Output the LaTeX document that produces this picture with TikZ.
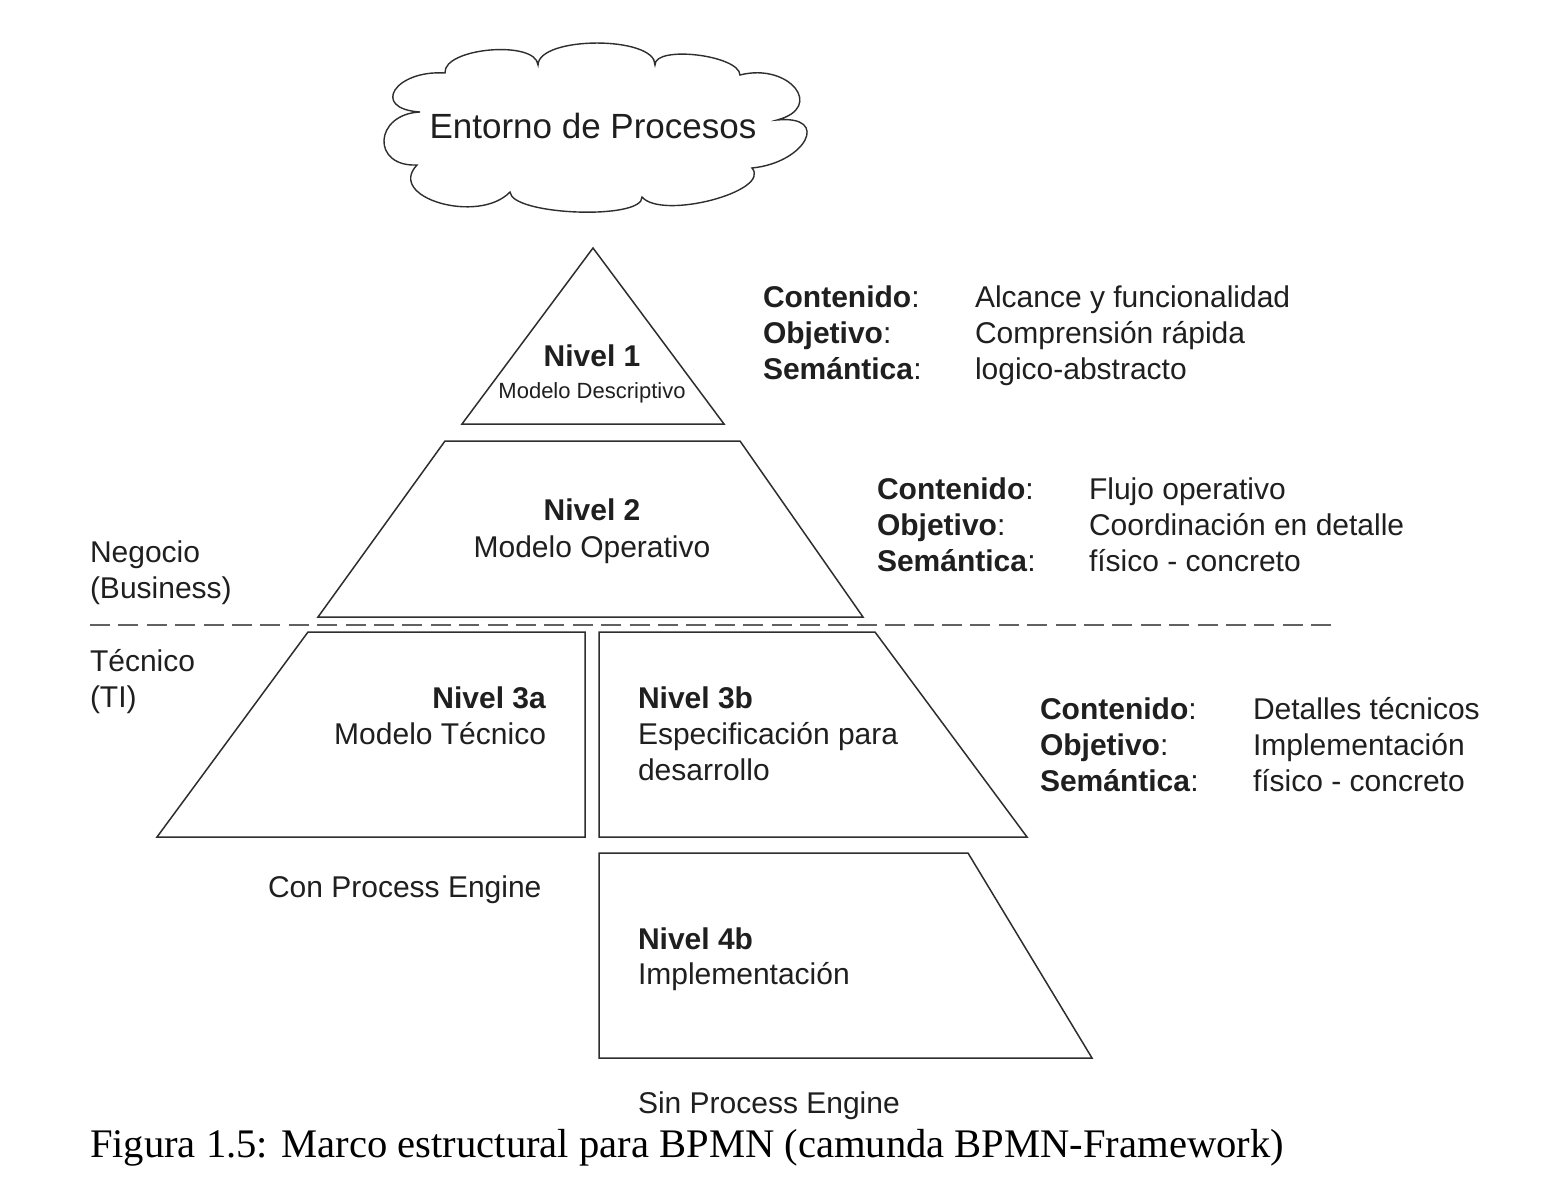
\documentclass[tikz,border=0pt]{standalone}
\usepackage{fontspec}
\setmainfont{Liberation Sans}
\newfontfamily\capfont{Liberation Serif}
\begin{document}
\begin{tikzpicture}[x=1pt,y=-1pt,
  lvlshape/.style={draw=black!82, line width=1.5pt, line join=miter},
  sepline/.style={draw=black!62, line width=2.8pt, dash pattern=on 20pt off 8.4pt},
  tx/.style={inner sep=0pt, outer sep=0pt, text=black!88, font=\fontsize{30}{36}\selectfont},
  txs/.style={tx, font=\fontsize{22}{26}\selectfont},
  txc/.style={tx, font=\fontsize{35}{42}\selectfont},
  txcap/.style={inner sep=0pt, outer sep=0pt, text=black, font=\capfont\fontsize{40.6}{48}\selectfont}]
\useasboundingbox[fill=white] (0,0) rectangle (1542,1179);

% cloud
\draw[lvlshape, line width=1.4pt]
  (420,112) .. controls (370,108.7) and (395,69.7) .. (445,73)
  .. controls (443,47.7) and (536,39.7) .. (538,65)
  .. controls (538.7,35.7) and (655.7,35.7) .. (655,65)
  .. controls (654.3,45) and (739.3,55) .. (740,75)
  .. controls (788.7,62.3) and (825.7,107.3) .. (777,120)
  .. controls (831,114.7) and (806,162.7) .. (752,168)
  .. controls (772,191.3) and (662,220.3) .. (642,197)
  .. controls (643.3,220.3) and (511.3,215.3) .. (510,192)
  .. controls (478.7,224.7) and (385.7,197.7) .. (417,165)
  .. controls (371,167) and (374,114) .. (420,112) -- cycle;
\node[txc, anchor=base] (env) at (593,138) {Entorno de Procesos};

% pyramid levels
\draw[lvlshape] (593,248) -- (724,424) -- (462,424) -- cycle;
\draw[lvlshape] (445,441) -- (740,441) -- (863,617) -- (318,617) -- cycle;
\draw[lvlshape] (308,632) -- (585,632) -- (585,837) -- (157,837) -- cycle;
\draw[lvlshape] (599,632) -- (875,632) -- (1027,837) -- (599,837) -- cycle;
\draw[lvlshape] (599,853) -- (968,853) -- (1092,1058) -- (599,1058) -- cycle;

% separator
\coordinate (sepA) at (90,625);
\coordinate (sepB) at (1335,625);
\draw[sepline] (sepA) -- (sepB);

% level texts
\node[tx, anchor=base] (n1) at (592,366) {\textbf{Nivel 1}};
\node[txs, anchor=base] (n1s) at (592,398) {Modelo Descriptivo};
\node[tx, anchor=base] (n2) at (592,520) {\textbf{Nivel 2}};
\node[tx, anchor=base] (n2s) at (592,557) {Modelo Operativo};
\node[tx, anchor=base east] (n3a) at (546,708) {\textbf{Nivel 3a}};
\node[tx, anchor=base east] (n3as) at (546,744) {Modelo Técnico};
\node[tx, anchor=base west] (n3b) at (638,708) {\textbf{Nivel 3b}};
\node[tx, anchor=base west] (n3bs) at (638,744) {Especificación para};
\node[tx, anchor=base west] (n3bt) at (638,780) {desarrollo};
\node[tx, anchor=base west] (n4b) at (638,949) {\textbf{Nivel 4b}};
\node[tx, anchor=base west] (n4bs) at (638,984) {Implementación};
\node[tx, anchor=base west] (con) at (268,897) {Con Process Engine};
\node[tx, anchor=base west] (sin) at (638,1113) {Sin Process Engine};

% side labels
\node[tx, anchor=base west] (neg) at (90,562) {Negocio};
\node[tx, anchor=base west] (bus) at (90,598) {(Business)};
\node[tx, anchor=base west] (tec) at (90,671) {Técnico};
\node[tx, anchor=base west] (ti) at (90,707) {(TI)};

% info level 1
\node[tx, anchor=base west] (c1a) at (763,307) {\textbf{Contenido}:};
\node[tx, anchor=base west] (c1b) at (763,343) {\textbf{Objetivo}:};
\node[tx, anchor=base west] (c1c) at (763,379) {\textbf{Semántica}:};
\node[tx, anchor=base west] (v1a) at (975,307) {Alcance y funcionalidad};
\node[tx, anchor=base west] (v1b) at (975,343) {Comprensión rápida};
\node[tx, anchor=base west] (v1c) at (975,379) {logico-abstracto};

% info level 2
\node[tx, anchor=base west] (c2a) at (877,499) {\textbf{Contenido}:};
\node[tx, anchor=base west] (c2b) at (877,535) {\textbf{Objetivo}:};
\node[tx, anchor=base west] (c2c) at (877,571) {\textbf{Semántica}:};
\node[tx, anchor=base west] (v2a) at (1089,499) {Flujo operativo};
\node[tx, anchor=base west] (v2b) at (1089,535) {Coordinación en detalle};
\node[tx, anchor=base west] (v2c) at (1089,571) {físico - concreto};

% info level 3
\node[tx, anchor=base west] (c3a) at (1040,719) {\textbf{Contenido}:};
\node[tx, anchor=base west] (c3b) at (1040,755) {\textbf{Objetivo}:};
\node[tx, anchor=base west] (c3c) at (1040,791) {\textbf{Semántica}:};
\node[tx, anchor=base west] (v3a) at (1253,719) {Detalles técnicos};
\node[tx, anchor=base west] (v3b) at (1253,755) {Implementación};
\node[tx, anchor=base west] (v3c) at (1253,791) {físico - concreto};

% caption
\node[txcap, anchor=base west] (cap) at (90,1157) {Figura 1.5: Marco estructural para BPMN (camunda BPMN-Framework)};
\end{tikzpicture}
\end{document}
